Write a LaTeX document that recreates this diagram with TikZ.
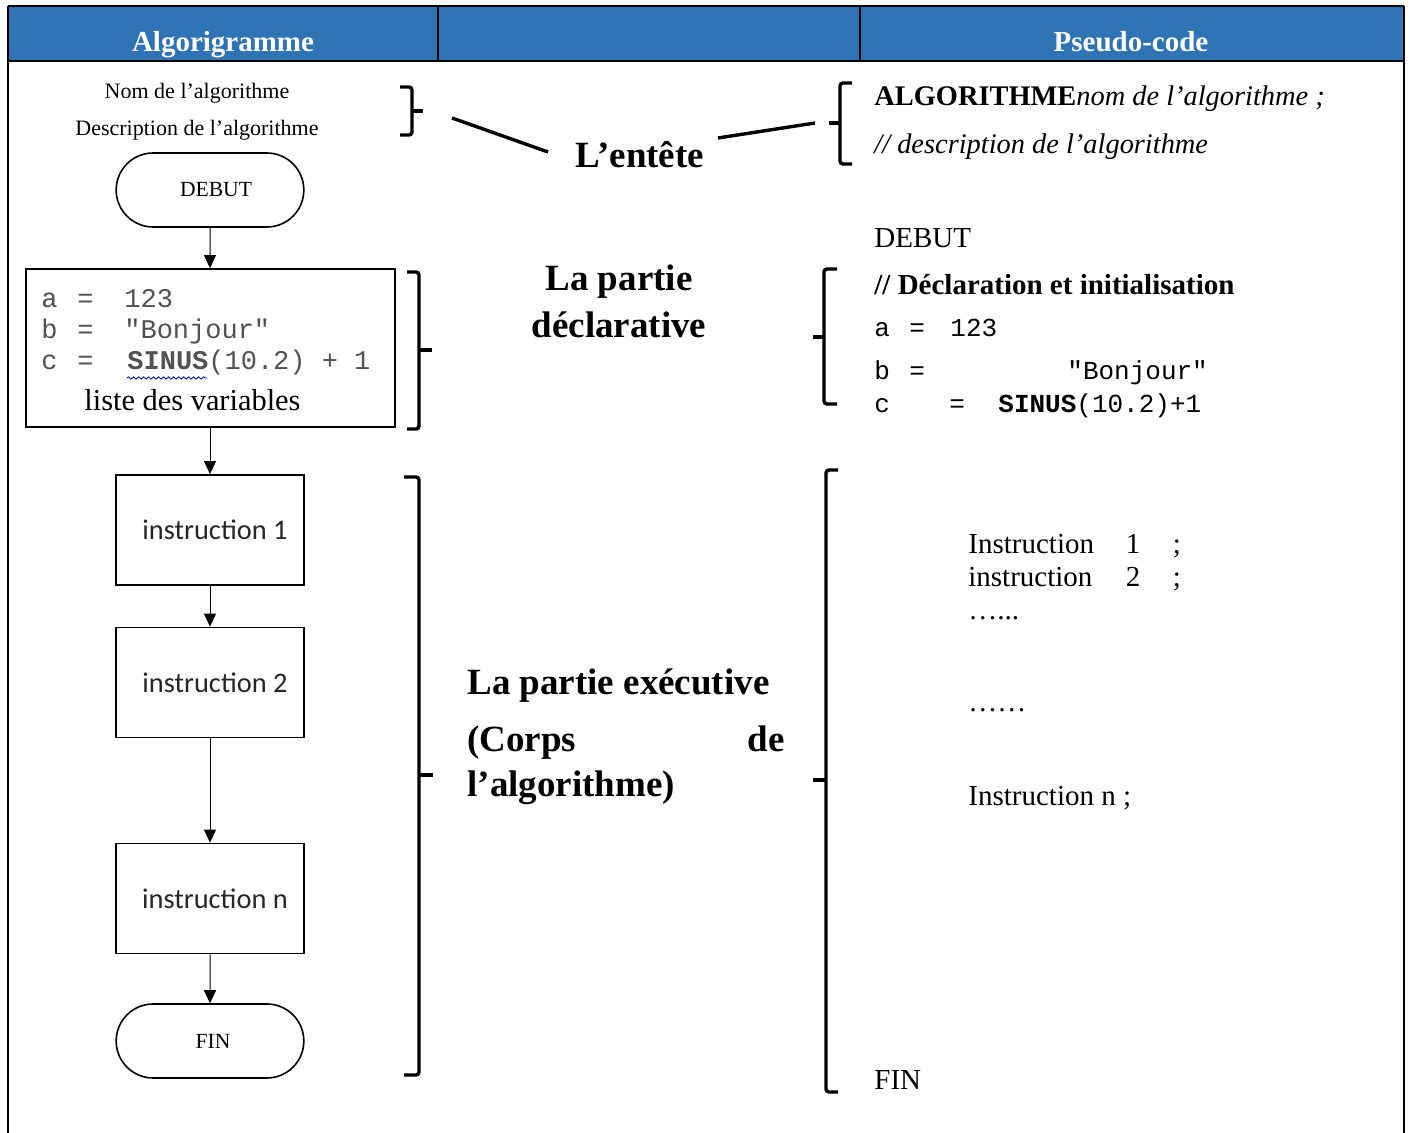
\documentclass[tikz,border=0pt]{standalone}
\usepackage{fontspec}
\setmainfont{Liberation Serif}
\newfontfamily\codefont{Liberation Mono}
\newfontfamily\boitefont{Carlito}
\usetikzlibrary{shapes.misc,arrows.meta,positioning,decorations.pathmorphing}
\definecolor{bleuentete}{HTML}{2E74B5}
\newcommand{\taille}[1]{\fontsize{#1}{#1}\selectfont}
\tikzset{
  terminal/.style={draw, line width=0.8pt, rounded rectangle, minimum width=100.5pt, minimum height=37pt, font=\taille{10.8}},
  instr/.style={draw, line width=0.9pt, minimum width=94pt, minimum height=55pt, font=\boitefont\taille{14.2}, text=black!85},
  fleche/.style={-{Triangle[width=6pt,length=6.5pt]}, line width=0.5pt},
  accolade/.style={line width=1.7pt, rounded corners=1.5pt},
  trait/.style={line width=1.7pt},
  txt/.style={inner sep=0pt, anchor=base west},
  petit/.style={inner sep=0pt, anchor=base, font=\taille{11}},
  grand/.style={inner sep=0pt, font=\bfseries\taille{18.5}},
  pseudo/.style={txt, font=\taille{14.5}},
  codeg/.style={txt, font=\codefont\taille{13.5}, text=black!68},
  coded/.style={txt, font=\codefont\taille{13}}
}
\begin{document}
\begin{tikzpicture}[x=0.5pt, y=-0.5pt]
    \useasboundingbox (0,0) rectangle (1410,1133);
    \fill[white] (0,0) rectangle (1410,1133);

    % En-tete du tableau
    \fill[bleuentete] (8,6) rectangle (1404,61);
    \draw[line width=1.2pt] (8,6) -- (1404,6);
    \draw[line width=1.2pt] (8,61) -- (1404,61);
    \draw[line width=1pt] (8,6) -- (8,1133);
    \draw[line width=1pt] (1404,6) -- (1404,1133);
    \draw[line width=0.8pt] (438,6) -- (438,61);
    \draw[line width=0.8pt] (860,6) -- (860,61);
    \node[inner sep=0pt, anchor=base, text=white, font=\bfseries\taille{14.5}] (algorigramme) at (223,52) {Algorigramme};
    \node[inner sep=0pt, anchor=base, text=white, font=\bfseries\taille{14.5}] (pseudocode) at (1131,52) {Pseudo-code};

    % Algorigramme
    \node[petit] (nom) at (197,99) {Nom de l’algorithme};
    \node[petit] (descr) at (197,136) {Description de l’algorithme};
    \node[terminal] (debut) at (210,190) {\hspace*{6pt}DEBUT};
    \node[draw, line width=0.9pt, minimum width=184.5pt, minimum height=79pt] (vars) at (210.5,348) {};
    \node[codeg] (va) at (41,308) {a};
    \node[codeg] (vaeq) at (77,308) {=};
    \node[codeg] (vaval) at (124,308) {123};
    \node[codeg] (vb) at (41,339) {b};
    \node[codeg] (vbeq) at (77,339) {=};
    \node[codeg] (vbval) at (124,339) {"Bonjour"};
    \node[codeg] (vc) at (41,370) {c};
    \node[codeg] (vceq) at (77,370) {=};
    \node[codeg] (vcval) at (127,370) {\textbf{SINUS}(10.2) + 1};
    \draw[blue!70!black, line width=0.4pt, decorate, decoration={snake, amplitude=0.6pt, segment length=2.5pt}] (127,378) -- (207,378);
    \node[txt, font=\taille{15.2}] (liste) at (84,411) {liste des variables};
    \node[instr] (instr1) at (210,530) {\hspace*{5pt}instruction 1};
    \node[instr] (instr2) at (210,682.5) {\hspace*{5pt}instruction 2};
    \node[instr] (instrn) at (210,898.5) {\hspace*{5pt}instruction n};
    \node[terminal] (fin) at (210,1041) {\hspace*{3pt}FIN};
    \draw[fleche] (debut) -- (debut.south |- vars.north);
    \draw[fleche] (vars.south -| instr1.north) -- (instr1);
    \draw[fleche] (instr1) -- (instr2);
    \draw[fleche] (instr2) -- (instrn);
    \draw[fleche] (instrn) -- (fin);

    % Accolades
    \draw[accolade] (400,87) -- (412,87) -- (412,135) -- (400,135);
    \draw[accolade] (412,111) -- (423,111);
    \draw[accolade] (852,83) -- (840,83) -- (840,164) -- (852,164);
    \draw[accolade] (840,123) -- (829,123);
    \draw[accolade] (407,272) -- (419,272) -- (419,429) -- (407,429);
    \draw[accolade] (419,350) -- (432,350);
    \draw[accolade] (837,269) -- (824,269) -- (824,404) -- (837,404);
    \draw[accolade] (824,337) -- (813,337);
    \draw[accolade] (404,477) -- (419,477) -- (419,1075) -- (404,1075);
    \draw[accolade] (419,775) -- (433,775);
    \draw[accolade] (838,470) -- (826,470) -- (826,1092) -- (838,1092);
    \draw[accolade] (826,780) -- (813,780);

    % Parties
    \node[grand, anchor=base] (entete) at (640,168) {L’entête};
    \coordinate (lienA) at (452,118);
    \coordinate (lienB) at (548,152);
    \coordinate (lienC) at (718,138);
    \coordinate (lienD) at (815,123);
    \draw[trait] (lienA) -- (lienB);
    \draw[trait] (lienC) -- (lienD);
    \node[grand, anchor=base] (decl1) at (619,291) {La partie};
    \node[grand, anchor=base] (decl2) at (619,338) {déclarative};
    \node[grand, anchor=base west] (exec1) at (467,695) {La partie exécutive};
    \node[grand, anchor=base west] (exec2) at (467,752) {(Corps};
    \node[grand, anchor=base east] (exec3) at (785,752) {de};
    \node[grand, anchor=base west] (exec4) at (467,797) {l’algorithme)};

    % Pseudo-code
    \node[pseudo, font=\taille{14.2}] (algo) at (874,106) {\textbf{ALGORITHME}\textit{nom de l’algorithme ;}};
    \node[pseudo, font=\taille{14.2}] (desc2) at (874,154) {\textit{// description de l’algorithme}};
    \node[pseudo] (pdebut) at (874,248) {DEBUT};
    \node[pseudo] (pdecl) at (874,295) {\textbf{// Déclaration et initialisation}};
    \node[coded] (pa) at (874,337) {a};
    \node[coded] (paeq) at (909,337) {=};
    \node[coded] (paval) at (950,337) {123};
    \node[coded] (pb) at (874,380) {b};
    \node[coded] (pbeq) at (909,380) {=};
    \node[coded] (pbval) at (1067,380) {"Bonjour"};
    \node[coded] (pc) at (874,413) {c};
    \node[coded] (pceq) at (949,413) {=};
    \node[coded] (pcval) at (998,413) {\textbf{SINUS}(10.2)+1};
    \node[pseudo] (pi1) at (968,554) {Instruction};
    \node[pseudo, anchor=base] (pi1n) at (1133,554) {1};
    \node[pseudo, anchor=base] (pi1p) at (1177,554) {;};
    \node[pseudo] (pi2) at (968,587) {instruction};
    \node[pseudo, anchor=base] (pi2n) at (1133,587) {2};
    \node[pseudo, anchor=base] (pi2p) at (1177,587) {;};
    \node[pseudo] (pp1) at (968,620) {…...};
    \node[pseudo] (pp2) at (968,712) {……};
    \node[pseudo] (pin) at (968,806) {Instruction n ;};
    \node[pseudo] (pfin) at (874,1089) {FIN};
\end{tikzpicture}
\end{document}
